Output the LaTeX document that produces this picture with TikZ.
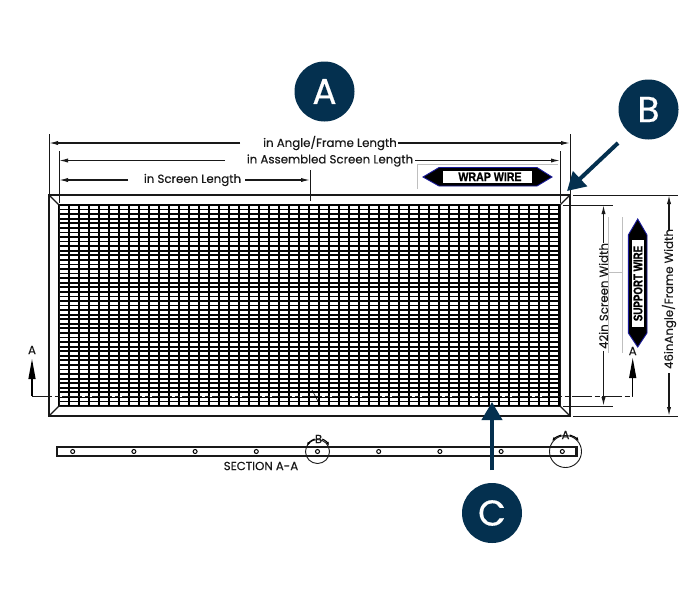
\documentclass[tikz,border=0pt]{standalone}
\usepackage{fontspec}
\setmainfont{Poppins}
\newfontfamily\badgefont{Liberation Sans}
\usetikzlibrary{arrows.meta}
\definecolor{navy}{HTML}{04304F}
\definecolor{edgeblue}{HTML}{1A1A9C}
\tikzset{
  x=1pt,y=-1pt,
  dim/.style={line width=1.2pt,black!90},
  dimarrow/.style={dim,-{Latex[length=9pt,width=4.2pt]}},
  frameline/.style={line width=1.3pt,black!90},
  ext/.style={line width=.9pt,black!90},
  graybar/.style={line width=.8pt,black!25},
  label/.style={font=\addfontfeature{FakeBold=.25}\fontsize{11.8}{13}\selectfont,inner sep=0pt,text=black!90},
  badge/.style={circle,fill=navy,minimum size=60pt,inner sep=0pt,text=white,font=\addfontfeature{FakeBold=.4}\fontsize{36}{38}\selectfont},
  callout/.style={line width=4pt,navy,-{Triangle[length=18pt,width=20pt]}},
  flag/.style={fill=black,draw=edgeblue,line width=.9pt,line join=miter},
  flagtext/.style={inner sep=0pt,text=black},
  cut/.style={line width=1pt,black!90,dash pattern=on 20pt off 2.5pt on 5pt off 2.5pt},
  cutgap/.style={line width=1.5pt,white,dash pattern=on 2.5pt off 5pt on 2.5pt off 20pt,dash phase=10pt},
  sectionup/.style={line width=1.2pt,black,-{Triangle[length=20pt,width=7pt]}},
  hole/.style={circle,draw=black,line width=1pt,fill=white,minimum size=4pt,inner sep=0pt},
  detail/.style={circle,draw=black!90,line width=.9pt,inner sep=0pt}
}
\begin{document}
\begin{tikzpicture}
\useasboundingbox (0,0) rectangle (700,600);
\fill[white] (0,0) rectangle (700,600);

% mesh
\foreach \k in {0,...,44} {\draw[line width=1.8pt,black] (59,{205+4.57*\k}) -- (560,{205+4.57*\k});}
\foreach \k in {0,...,50} {\draw[line width=2pt,black] ({59+10*\k},205) -- ({59+10*\k},406);}

% section line
\coordinate (s1) at (32,396); \coordinate (s2) at (632.7,396);
\coordinate (s3) at (32,359); \coordinate (s4) at (632.7,358);
\draw[cutgap] (s1) -- (s2);
\draw[cut] (s1) -- (s2);
\draw[sectionup] (s1) -- (s3);
\draw[sectionup] (s2) -- (s4);
\node[label] (secL) at (32,350) {A};
\node[label] (secR) at (632.7,351) {A};

% frame
\coordinate (fTL) at (49,195); \coordinate (fTR) at (570,195);
\coordinate (fBL) at (49,416); \coordinate (fBR) at (570,416);
\coordinate (iTL) at (59,205); \coordinate (iTR) at (560,205);
\coordinate (iBL) at (59,406); \coordinate (iBR) at (560,406);
\draw[frameline] (fTL) rectangle (fBR);
\draw[ext] (iTL) -- (iBL);
\draw[ext] (iTR) -- (iBR);
\draw[frameline] (fTL) -- (iTL);
\draw[frameline] (fTR) -- (iTR);
\draw[frameline] (fBL) -- (iBL);
\draw[frameline] (fBR) -- (iBR);
\draw[ext] (iBL) -- (iBR);
\coordinate (sa) at (312,390); \coordinate (sb) at (320,405);
\draw[line width=.6pt] (sa) -- (sb);

% dimension: angle/frame length
\coordinate (a1) at (49,134); \coordinate (a2) at (570,134);
\coordinate (a3) at (49,143); \coordinate (a4) at (570,143);
\coordinate (a5) at (240,143); \coordinate (a6) at (398,143);
\draw[ext] (a1) -- (fTL); \draw[ext] (a2) -- (fTR);
\node[label] (angleL) at (330,143) {in Angle/Frame Length};
\draw[dimarrow] (a5) -- (a3);
\draw[dimarrow] (a6) -- (a4);

% dimension: assembled length
\coordinate (b1) at (59,151); \coordinate (b2) at (560,151);
\coordinate (b3) at (59,160.5); \coordinate (b4) at (560,160.5);
\coordinate (b5) at (225,160.5); \coordinate (b6) at (415,160.5);
\draw[ext] (b1) -- (59,203); \draw[ext] (b2) -- (560,203);
\node[label] (asmL) at (330,160.5) {in Assembled Screen Length};
\draw[dimarrow] (b5) -- (b3);
\draw[dimarrow] (b6) -- (b4);

% dimension: screen length
\coordinate (c3) at (59,180); \coordinate (c4) at (310,180);
\coordinate (c5) at (310,170); \coordinate (c6) at (310,201);
\coordinate (c7) at (128,180); \coordinate (c8) at (245,180);
\draw[ext] (c5) -- (c6);
\node[label] (scrL) at (192.5,180) {in Screen Length};
\draw[dimarrow] (c7) -- (c3);
\draw[dimarrow] (c8) -- (c4);

% wrap wire flag
\draw[graybar] (417,189) -- (417,164) -- (558,164);
\draw[flag] (423,177) -- (439,167.5) -- (537,167.5) -- (552,177) -- (537,186) -- (439,186) -- cycle;
\fill[white] (443,171) rectangle (532,182.5);
\node[flagtext,font={\badgefont\addfontfeature{FakeStretch=.85,FakeBold=1}\bfseries\fontsize{12.5}{13}\selectfont}] (wrapT) at (490,176.8) {WRAP WIRE};

% dimension: screen width
\coordinate (d1) at (563,205); \coordinate (d2) at (613,205);
\coordinate (d3) at (563,406); \coordinate (d4) at (613,406);
\coordinate (d5) at (603.5,205); \coordinate (d6) at (603.5,406);
\coordinate (d7) at (603.5,243); \coordinate (d8) at (603.5,351);
\draw[ext] (d1) -- (d2); \draw[ext] (d3) -- (d4);
\draw[graybar] (608,217) -- (608,353);
\node[label,rotate=90] (scrW) at (603.5,296) {42in Screen Width};
\draw[dimarrow] (d7) -- (d5);
\draw[dimarrow] (d8) -- (d6);

% dimension: frame width
\coordinate (e1) at (573,195); \coordinate (e2) at (678,195);
\coordinate (e3) at (573,416); \coordinate (e4) at (678,416);
\coordinate (e5) at (669,195); \coordinate (e6) at (669,416);
\coordinate (e7) at (669,230); \coordinate (e8) at (669,373);
\draw[ext] (e1) -- (e2); \draw[ext] (e3) -- (e4);
\node[label,rotate=90] (frmW) at (669,299) {46inAngle/Frame Width};
\draw[dimarrow] (e7) -- (e5);
\draw[dimarrow] (e8) -- (e6);

% support wire flag
\draw[graybar] (622,217) -- (622,353);
\draw[graybar] (608,272) -- (622,272);
\draw[flag] (637.7,219) -- (647,235) -- (647,333) -- (637.7,347) -- (628.3,333) -- (628.3,235) -- cycle;
\fill[white] (632.2,240) rectangle (644,327);
\node[flagtext,rotate=90,font={\badgefont\addfontfeature{FakeStretch=.78,FakeBold=1}\bfseries\fontsize{12.5}{13}\selectfont}] (suppT) at (638,283.5) {SUPPORT WIRE};

% section bar
\coordinate (q1) at (57,447); \coordinate (q2) at (577,456);
\draw[line width=1.1pt,black!90] (q1) rectangle (q2);
\draw[line width=1.6pt,black!90] (57,447) -- (577,447);
\draw[line width=2pt,black!90] (576,447) -- (576,456);
\draw[line width=1.6pt,black!90] (57,447) -- (57,456);
\foreach \n/\hx in {h1/72.7,h2/133.9,h3/195.1,h4/256.3,h5/317.5,h6/378.7,h7/439.9,h8/501.1,h9/562.3} {
  \node[hole] (\n) at (\hx,451.5) {};
}
\node[detail,minimum size=24pt] (detB) at (317.5,451.5) {};
\node[detail,minimum size=32pt] (detA) at (565.5,451.5) {};
\node[label] (tB) at (318.5,439) {B};
\node[label] (tA) at (565.5,435) {A};
\draw[line width=1.1pt,-{Latex[length=4pt,width=3pt]}] (tB.west) to[bend right=20] (307,446);
\draw[line width=1.1pt,-{Latex[length=4pt,width=3pt]}] (tB.east) to[bend left=20] (329,446);
\draw[line width=1.1pt,-{Latex[length=4pt,width=3pt]}] (tA.west) to[bend right=15] (552,441);
\draw[line width=1.1pt,-{Latex[length=4pt,width=3pt]}] (tA.east) to[bend left=15] (579,441);
\node[label] (secT) at (261,466) {SECTION A-A};

% callouts
\node[badge] (A) at (324.5,91.5) {A};
\node[badge] (B) at (648.5,109.5) {B};
\node[badge] (C) at (492,513) {C};
\coordinate (Bt) at (567,191); \coordinate (Bs) at (618,143);
\coordinate (Ct) at (492,402); \coordinate (Cs) at (492,470);
\draw[callout] (Bs) -- (Bt);
\draw[callout] (Cs) -- (Ct);
\end{tikzpicture}
\end{document}
